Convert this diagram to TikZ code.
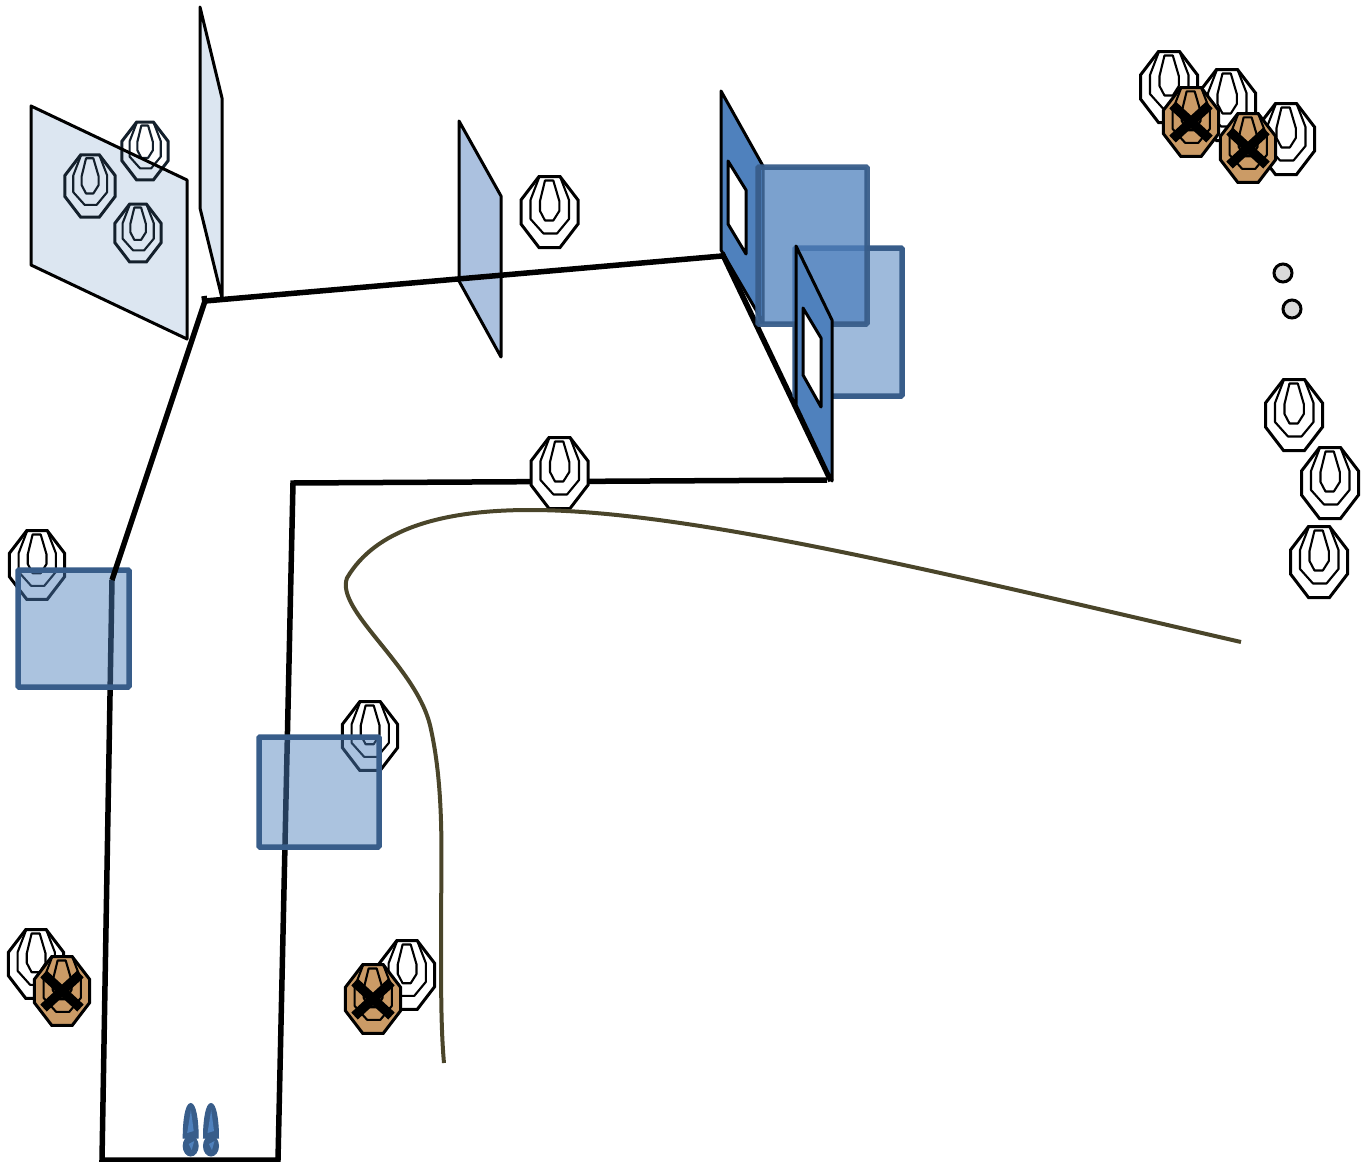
\documentclass[tikz,border=0pt]{standalone}
\definecolor{pLight}{HTML}{DCE6F1}
\definecolor{pMid}{HTML}{ABC1DF}
\definecolor{pDark}{HTML}{4F81BD}
\definecolor{sqEdge}{HTML}{385D8A}
\definecolor{tOrange}{HTML}{CB9B66}
\definecolor{curveCol}{HTML}{4A452A}
\definecolor{dotCol}{HTML}{D9D9D9}
\definecolor{tInk}{HTML}{14202C}
\tikzset{
  wall/.style={line width=5.5pt,black,line join=miter},
  panelline/.style={draw=black,line width=3pt,line join=round},
  window/.style={draw=black,line width=3pt,fill=white,line join=round},
  bluesq/.style={draw=sqEdge,line width=5.5pt,rounded corners=1pt,fill=pDark,fill opacity=.48},
  tout/.style={line width=3pt,line join=miter},
  tin/.style={line width=2.1pt,line join=round},
  xmark/.style={line width=9.5pt,black},
  footout/.style={fill=sqEdge,draw=sqEdge,line width=1pt},
  footin/.style={fill=pDark}
}
\newcommand{\tgt}[5][black]{% colour, x, y, scale, fill
  \begin{scope}[shift={(#2,#3)},scale=#4,draw=#1]
    \draw[tout,#5] (-10.5,-35.5)--(10.5,-35.5)--(28.5,-12)--(28.5,12)--(10.5,35.5)--(-10.5,35.5)--(-28.5,12)--(-28.5,-12)--cycle;
    \draw[tin] (-10,-35.5)--(-19,-12)--(-19,7)--(-6,21.5)--(7.5,21.5)--(19.5,7)--(19.5,-12)--(10.5,-35.5);
    \draw[tin] (-4.5,-31.5)--(3.8,-31.5)--(9.8,-11)--(9.8,-1)--(3.8,8.5)--(-4.5,8.5)--(-9.5,-1)--(-9.5,-11)--cycle;
  \end{scope}}
\newcommand{\xtgt}[2]{% x, y
  \tgt{#1}{#2}{.97}{fill=tOrange}
  \draw[xmark] (#1-18.5,#2-17)--(#1+18.5,#2+17);
  \draw[xmark] (#1+18.5,#2-17)--(#1-18.5,#2+17);}
\newcommand{\foot}[1]{%
  \fill[footout] (#1,1103.5) .. controls (#1+5,1103.5) and (#1+7.5,1120) .. (#1+7.5,1138)
     -- (#1-7.5,1138) .. controls (#1-7.5,1120) and (#1-5,1103.5) .. cycle;
  \fill[footout] (#1,1146) ellipse [x radius=7.5,y radius=10];
  \fill[footin] (#1+.2,1110)--(#1+3,1131)--(#1-3.5,1133)--cycle;
  \fill[footin] (#1-2,1144)--(#1+3.5,1141)--(#1+1,1150)--cycle;}
\begin{document}
\begin{tikzpicture}[x=1pt,y=-1pt]
\useasboundingbox (0,0) rectangle (1361,1162);
% light panels
\fill[pLight] (31,106)--(187,180)--(187,339)--(31,265)--cycle;
\tgt[tInk]{145}{151}{.81}{fill=none}
\tgt[tInk]{90}{186}{.88}{fill=none}
\tgt[tInk]{138}{233}{.81}{fill=none}
\draw[panelline] (31,106)--(187,180)--(187,339)--(31,265)--cycle;
\draw[panelline,fill=pLight] (200,7)--(222,98)--(222,298)--(200,208)--cycle;
\draw[panelline,fill=pMid] (459,121)--(501,196)--(501,357)--(459,281)--cycle;
% targets under squares
\tgt{37}{565}{.97}{fill=white}
\tgt{370}{736}{.97}{fill=white}
% walls
\draw[wall] (205,301)--(722,256);
\draw[wall] (204,296)--(205,303);
\draw[wall] (112,580)--(102,1160)--(278,1160)--(293,483)--(827,480);
% free targets
\tgt{549.5}{212}{1}{fill=white}
\tgt{559.5}{473}{1}{fill=white}
\tgt{1169}{87}{1}{fill=white}
\tgt{1227}{105}{1}{fill=white}
\tgt{1286}{139}{1}{fill=white}
\tgt{1294}{415}{1}{fill=white}
\tgt{1330}{483}{1}{fill=white}
\tgt{1319}{562}{1}{fill=white}
\tgt{36}{964}{.97}{fill=white}
\tgt{407}{975}{.97}{fill=white}
\xtgt{1191}{122}
\xtgt{1248}{148}
\xtgt{62}{991}
\xtgt{373}{999}
% dots
\draw[fill=dotCol,line width=3pt] (1283,273) circle [radius=9];
\draw[fill=dotCol,line width=3pt] (1292,309) circle [radius=9];
% curve
\draw[curveCol,line width=4pt] (1241,642) .. controls (950,575) and (690,510) .. (530,510)
  .. controls (440,510) and (375,530) .. (347,578)
  .. controls (335,610) and (415,665) .. (430,725)
  .. controls (445,790) and (441,860) .. (441,930)
  .. controls (441,990) and (441,1030) .. (444,1063);
% blue squares lower
\draw[bluesq] (18,570) rectangle (129,687);
\draw[bluesq] (259,737) rectangle (379,847);
\draw[wall] (205,301)--(112,580);
% dark panel 1 and diagonal wall
\draw[panelline,fill=pDark] (721,91)--(763,166)--(763,322)--(721,250)--cycle;
\draw[window] (728,161)--(746,190)--(746,254)--(728,224)--cycle;
\draw[wall] (722,253)--(831,481);
% overlapping squares
\draw[bluesq,fill opacity=.55] (795,248) rectangle (902,396);
\draw[bluesq,fill opacity=.75,draw opacity=.95] (758,167) rectangle (867,324);
% dark panel 2
\draw[panelline,fill=pDark] (796,246)--(832,320)--(832,481)--(796,405)--cycle;
\draw[window] (803,308)--(821,338)--(821,407)--(803,375)--cycle;
% feet
\foot{190.7}
\foot{211}
\end{tikzpicture}
\end{document}
